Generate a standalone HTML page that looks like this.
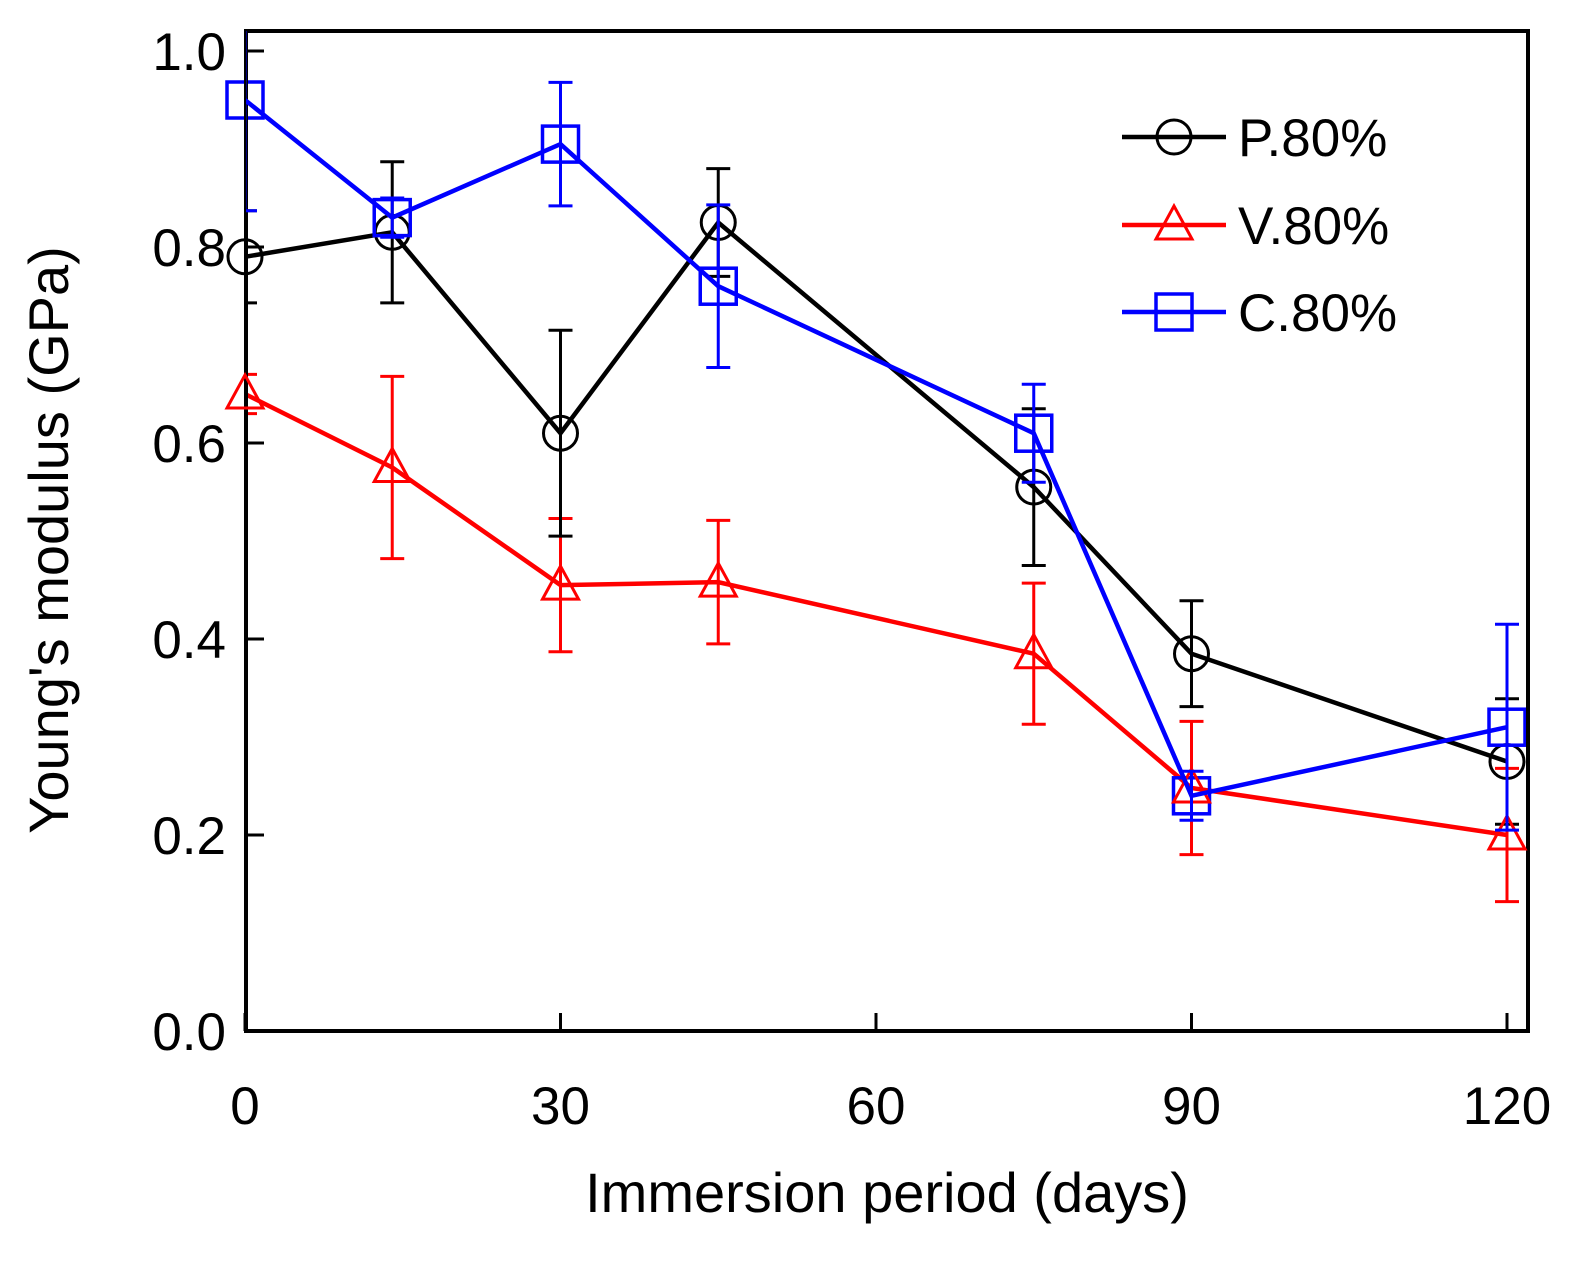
<!DOCTYPE html>
<html><head><meta charset="utf-8"><style>
body{margin:0;background:#fff}
svg text{font-family:"Liberation Sans",sans-serif;fill:#000}
</style></head><body>
<svg id="c" width="1587" height="1258" xmlns="http://www.w3.org/2000/svg"></svg>
<script>
const days=[0,14,30,45,75,90,120];
const pVals=[0.79,0.815,0.61,0.825,0.555,0.385,0.275];
const pErr=[0.047,0.072,0.105,0.055,0.08,0.054,0.064];
const vVals=[0.65,0.575,0.455,0.458,0.385,0.248,0.2];
const vErr=[0.02,0.093,0.068,0.063,0.072,0.068,0.068];
const cVals=[0.95,0.83,0.905,0.76,0.61,0.24,0.31];
const cErr=[0.113,0.02,0.063,0.083,0.05,0.025,0.105];
const xTicks=[0,30,60,90,120];
const yTicks=[0.0,0.2,0.4,0.6,0.8,1.0];
const L=246,R=1528,T=31,B=1031;
const X=d=>245+d*(1507-245)/120;
const Y=v=>1031-v*(1031-51);
const S=document.getElementById('c');const NS='http://www.w3.org/2000/svg';
function mk(t,a,p){const e=document.createElementNS(NS,t);for(const k in a)e.setAttribute(k,a[k]);(p||S).appendChild(e);return e;}
const clip=mk('clipPath',{id:'cp'});mk('rect',{x:L,y:T,width:R-L,height:B-T},clip);
yTicks.forEach(v=>{
const t=mk('line',{x1:L,x2:L+18,y1:Y(v),y2:Y(v),stroke:'#000','stroke-width':3});

const l=mk('text',{x:L-20,y:Y(v)+19,'font-size':53,'text-anchor':'end'});l.textContent=v.toFixed(1);
});
xTicks.forEach(d=>{
const t=mk('line',{x1:X(d),x2:X(d),y1:B,y2:B-18,stroke:'#000','stroke-width':3});

const l=mk('text',{x:X(d),y:1124,'font-size':53,'text-anchor':'middle'});l.textContent=d;
});
const xt=mk('text',{x:887,y:1212,'font-size':56,'text-anchor':'middle'});xt.textContent='Immersion period (days)';

const yt=mk('text',{x:0,y:0,'font-size':56,'text-anchor':'middle',transform:'translate(68,540) rotate(-90)'});yt.textContent="Young's modulus (GPa)";

function marker(kind,cx,cy,col,g){
if(kind==='c')return mk('circle',{cx,cy,r:17,fill:'none',stroke:col,'stroke-width':3},g);
if(kind==='t')return mk('polygon',{points:`${cx},${cy-19} ${cx-18},${cy+14} ${cx+18},${cy+14}`,fill:'none',stroke:col,'stroke-width':3},g);
return mk('rect',{x:cx-18,y:cy-18,width:36,height:36,fill:'none',stroke:col,'stroke-width':3.5},g);}
function series(vals,err,col,kind,name){
const g=mk('g',{'clip-path':'url(#cp)'});
const g2=mk('g',{});
const ln=mk('polyline',{points:days.map((d,i)=>X(d)+','+Y(vals[i])).join(' '),fill:'none',stroke:col,'stroke-width':4.5},g);

days.forEach((d,i)=>{const x=X(d),y1=Y(vals[i]+err[i]),y2=Y(vals[i]-err[i]);
const e=mk('path',{d:`M${x},${y1}V${y2}M${x-12},${y1}H${x+12}M${x-12},${y2}H${x+12}`,stroke:col,'stroke-width':3,fill:'none'},g);

const m=marker(kind,x,Y(vals[i]),col,g2);
});}
series(vVals,vErr,'#ff0000','t','v80');
series(pVals,pErr,'#000','c','p80');
series(cVals,cErr,'#0000ff','s','c80');
const fr=mk('rect',{x:L,y:T,width:R-L,height:B-T,fill:'none',stroke:'#000','stroke-width':4});

S.appendChild(S.querySelectorAll('g')[1]);S.appendChild(S.querySelectorAll('g')[3]);S.appendChild(S.querySelectorAll('g')[5]);
[['P.80%','#000','c',137],['V.80%','#ff0000','t',225],['C.80%','#0000ff','s',312]].forEach(([t,col,k,y])=>{
const g=mk('g',{});
mk('line',{x1:1122,x2:1226,y1:y,y2:y,stroke:col,'stroke-width':4.5},g);marker(k,1174,y,col,g);
const l=mk('text',{x:1238,y:y+19,'font-size':53},g);l.textContent=t;});
</script>
</body></html>
